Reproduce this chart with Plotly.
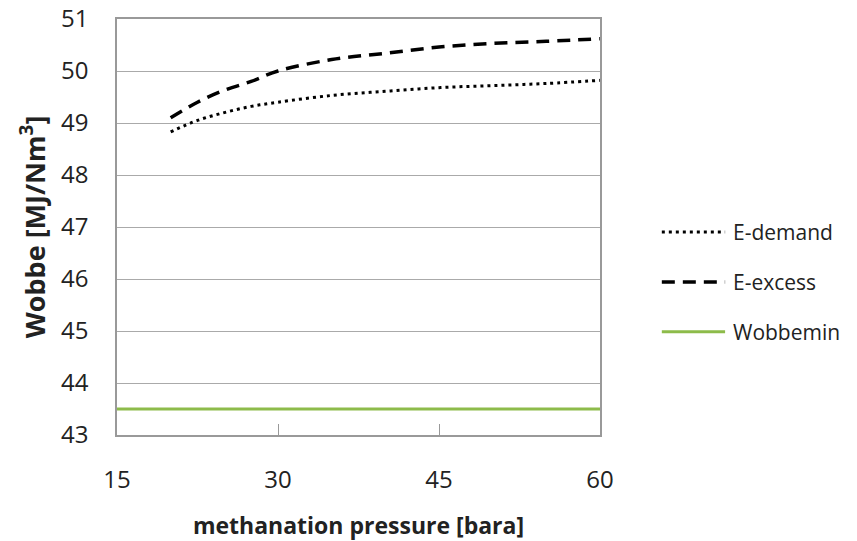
import plotly.graph_objects as go

pressure = [20, 22.5, 25, 27.5, 30, 35, 40, 45, 50, 55, 60]
e_demand = [48.83, 49.05, 49.20, 49.32, 49.40, 49.53, 49.61, 49.68, 49.72, 49.76, 49.82]
e_excess = [49.10, 49.40, 49.63, 49.80, 50.00, 50.22, 50.34, 50.46, 50.53, 50.57, 50.62]
wobbe_x = [15, 60]
wobbe_min = [43.5, 43.5]

x_ticks = [15, 30, 45, 60]
y_ticks = [43, 44, 45, 46, 47, 48, 49, 50, 51]

series_names = ["E-demand", "E-excess", "Wobbemin"]
series_colors = ["black", "black", "#8DBB4A"]
series_dash = ["3px,4px", "13px,8px", "solid"]
series_width = [3, 3.5, 3]

font = "Open Sans, sans-serif"
txt = "#222222"

fig = go.Figure()
for name, xs, ys, c, d, w in zip(series_names, [pressure, pressure, wobbe_x],
                                 [e_demand, e_excess, wobbe_min],
                                 series_colors, series_dash, series_width):
    fig.add_trace(go.Scatter(x=xs, y=ys, mode="lines", name=name, showlegend=False,
                             line=dict(color=c, width=w, dash=d,
                                       shape="spline" if name != "Wobbemin" else "linear")))

# manual legend (paper coordinates)
leg_y = [0.488, 0.368, 0.248]
for name, c, d, w, yy in zip(series_names, series_colors, series_dash, series_width, leg_y):
    fig.add_shape(type="line", xref="paper", yref="paper", x0=1.128, x1=1.259, y0=yy, y1=yy,
                  line=dict(color=c, width=w, dash=d))
    fig.add_annotation(xref="paper", yref="paper", x=1.272, y=yy, text=name, showarrow=False,
                       xanchor="left", yanchor="middle",
                       font=dict(size=21, family=font, color=txt))

fig.update_layout(
    width=857, height=541,
    margin=dict(l=117, r=257, t=19, b=106),
    paper_bgcolor="white", plot_bgcolor="white",
    font=dict(family=font, color=txt),
    showlegend=False,
)
fig.update_xaxes(range=[15, 60], tickvals=x_ticks, ticks="inside", ticklen=11, tickcolor="#999999",
                 showgrid=False, showline=True, linecolor="#999999", linewidth=1.5, mirror=True,
                 tickfont=dict(size=24, family=font, color=txt), ticklabelstandoff=22,
                 title=dict(text="<b>methanation pressure [bara]</b>", font=dict(size=23, family=font, color=txt), standoff=24),
                 zeroline=False, automargin=False)
fig.update_yaxes(range=[43, 51], tickvals=y_ticks, ticks="", showgrid=True, gridcolor="#AAAAAA", gridwidth=1.2,
                 showline=True, linecolor="#999999", linewidth=1.5, mirror=True,
                 tickfont=dict(size=24, family=font, color=txt), ticklabelstandoff=22,
                 title=dict(text="<b>Wobbe [MJ/Nm<sup>3</sup>]</b>", font=dict(size=27, family=font, color=txt), standoff=8),
                 zeroline=False, automargin=False)

fig.write_html("out.html")
